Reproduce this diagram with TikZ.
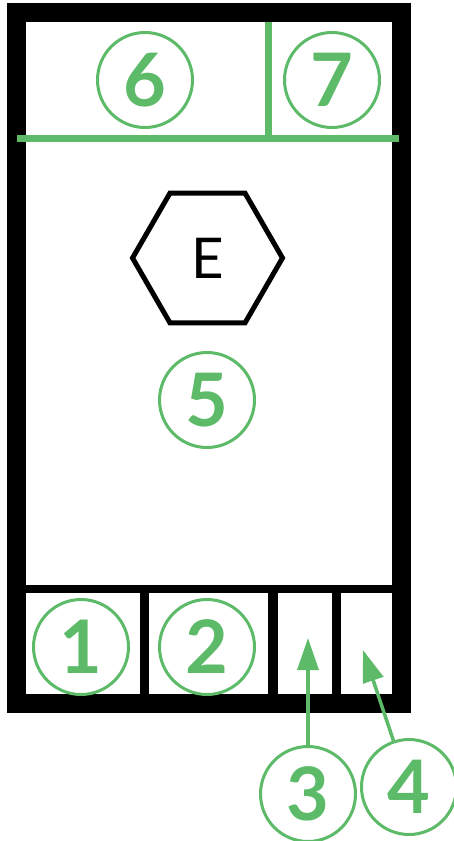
\documentclass[tikz,border=0pt]{standalone}
\usepackage{fontspec}
\setmainfont{Lato}
\usetikzlibrary{shapes.geometric,arrows.meta,positioning}
\definecolor{markgreen}{RGB}{92,186,104}

\begin{document}
\begin{tikzpicture}[x=0.02cm,y=-0.02cm,
    num/.style={draw=markgreen,text=markgreen,line width=0.06cm,circle,minimum size=1.9cm,inner sep=0pt,font=\fontsize{42}{42}\selectfont\bfseries},
    pointer/.style={draw=markgreen,line width=0.07cm,-{Triangle[width=0.42cm,length=0.64cm]}},
    divider/.style={markgreen,line width=0.14cm}]
    \useasboundingbox (0,0) rectangle (453,841);

    % Housing
    \draw[line width=0.38cm] (16.5,12.5) rectangle (401,703.5);
    \fill (26,585) rectangle (392,593);
    \foreach \a/\b in {140/149,268/278,332/341} {
        \fill (\a,593) rectangle (\b,694);
    }

    % Top partition
    \draw[divider] (17,139) -- (399,139);
    \draw[divider] (268,22) -- (268,139);

    % Emblem
    \node[draw,regular polygon,regular polygon sides=6,minimum size=3.0cm,line width=0.1cm,inner sep=0pt,font=\fontsize{32}{32}\selectfont] (hex) at (207.5,258) {E};

    % Markers
    \foreach \n/\x/\y in {1/81/647,2/207/647,3/308/794,4/409/787,5/207/400,6/145/80,7/332/80} {
        \node[num] (n\n) at (\x,\y) {\n};
    }

    % Arrows
    \coordinate (t3) at (308,638);
    \coordinate (t4) at (363,650);
    \draw[pointer] (n3) -- (t3);
    \draw[pointer] (n4) -- (t4);
\end{tikzpicture}
\end{document}
